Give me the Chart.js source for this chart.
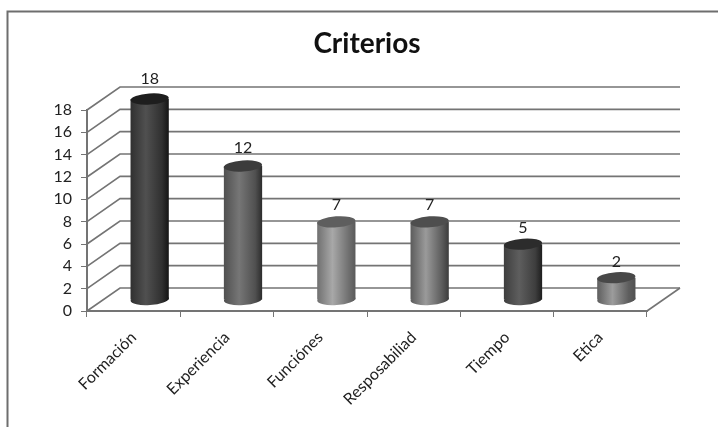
<!DOCTYPE html>
<html>
<head>
<meta charset="utf-8">
<style>
  html, body { margin: 0; padding: 0; background: #fff; }
  #wrap { width: 718px; height: 427px; }
</style>
<script src="https://cdn.jsdelivr.net/npm/chart.js@4"></script>
</head>
<body>
<div id="wrap"><canvas id="chart" width="718" height="427"></canvas></div>
<script>
const categories = ['Formación', 'Experiencia', 'Funciónes', 'Resposabiliad', 'Tiempo', 'Etica'];
const counts = [18, 12, 7, 7, 5, 2];
const chartTitle = 'Criterios';

// Cylinder shading per bar: left edge, highlight, right edge, cap
const shades = [
  ['#303030', '#505050', '#141414', '#1e1e1e'],
  ['#505050', '#767676', '#2c2c2c', '#3c3c3c'],
  ['#707070', '#a8a8a8', '#5a5a5a', '#5e5e5e'],
  ['#5c5c5c', '#9a9a9a', '#3c3c3c', '#4e4e4e'],
  ['#3e3e3e', '#5e5e5e', '#1e1e1e', '#2c2c2c'],
  ['#5e5e5e', '#9c9c9c', '#505050', '#484848']
];

// Depth of the drawn box: walls run this far back from the front axes
const DEPTH = { x: 33, y: -23 };
// Bars stand halfway into that depth
const BAR_SHIFT = { x: 16, y: -11 };
const BAR_RATIO = 0.41;
const LINE = '#747474';
const FONT = 'Lato, Carlito, "Open Sans", sans-serif';

function bodyGradient(chart, i) {
  const xs = chart.scales.x;
  if (!xs) return '#555';
  const half = xs.width / categories.length * BAR_RATIO / 2;
  const cx = xs.getPixelForValue(i);
  if (!Number.isFinite(half) || !Number.isFinite(cx)) return '#555';
  const g = chart.ctx.createLinearGradient(cx - half, 0, cx + half, 0);
  const s = shades[i];
  g.addColorStop(0, s[0]);
  g.addColorStop(0.4, s[1]);
  g.addColorStop(0.82, s[0]);
  g.addColorStop(1, s[2]);
  return g;
}

const chartBox = {
  id: 'chartBox',
  beforeDraw(chart) {
    const c = chart.ctx;
    c.save();
    c.strokeStyle = '#6e6e6e';
    c.lineWidth = 2;
    c.beginPath();
    c.moveTo(7.5, 427);
    c.lineTo(7.5, 11.5);
    c.lineTo(718, 11.5);
    c.stroke();
    c.restore();
  }
};

const depthWalls = {
  id: 'depthWalls',
  beforeDatasetsDraw(chart) {
    const c = chart.ctx;
    const { x: xs, y: ys } = chart.scales;
    const left = xs.left, right = xs.right;
    c.save();
    c.strokeStyle = LINE;
    c.lineWidth = 1.6;
    ys.ticks.forEach(t => {
      const py = ys.getPixelForValue(t.value);
      c.beginPath();
      c.moveTo(left, py);
      c.lineTo(left + DEPTH.x, py + DEPTH.y);
      c.lineTo(right + DEPTH.x, py + DEPTH.y);
      c.stroke();
    });
    // right edge of the floor
    const base = ys.getPixelForValue(0);
    c.beginPath();
    c.moveTo(right, base);
    c.lineTo(right + DEPTH.x, base + DEPTH.y);
    c.stroke();
    c.restore();

    // the bars are drawn set back from the front plane
    c.save();
    c.translate(BAR_SHIFT.x, BAR_SHIFT.y);
  },
  afterDatasetsDraw(chart) {
    const c = chart.ctx;
    const meta = chart.getDatasetMeta(0);
    const tilt = -0.07;
    meta.data.forEach((bar, i) => {
      const rx = bar.width / 2;
      const ry = 5.5;
      // rounded foot of the cylinder
      c.fillStyle = bodyGradient(chart, i);
      c.beginPath();
      c.ellipse(bar.x, bar.base, rx, ry, tilt, 0, Math.PI * 2);
      c.fill();
      // top face
      c.fillStyle = shades[i][3];
      c.beginPath();
      c.ellipse(bar.x, bar.y, rx, ry, tilt, 0, Math.PI * 2);
      c.fill();
    });
    c.restore();

    // value labels above the caps; taller bars carry theirs a little higher
    c.save();
    c.fillStyle = '#222';
    c.font = '16px ' + FONT;
    c.textAlign = 'center';
    c.textBaseline = 'middle';
    meta.data.forEach((bar, i) => {
      const gap = 15 + counts[i] * 0.3;
      c.fillText(String(counts[i]), bar.x + BAR_SHIFT.x, bar.y + BAR_SHIFT.y - gap);
    });
    c.restore();
  }
};

new Chart(document.getElementById('chart'), {
  type: 'bar',
  data: {
    labels: categories,
    datasets: [{
      data: counts,
      barPercentage: 1,
      categoryPercentage: BAR_RATIO,
      borderWidth: 0,
      backgroundColor: ctx => (ctx.dataIndex === undefined ? '#555' : bodyGradient(ctx.chart, ctx.dataIndex))
    }]
  },
  plugins: [chartBox, depthWalls],
  options: {
    responsive: false,
    animation: false,
    layout: { padding: { left: 0, right: 71, top: 0, bottom: 0 } },
    plugins: {
      legend: { display: false },
      tooltip: { enabled: false },
      title: {
        display: true,
        text: chartTitle,
        color: '#111',
        fullSize: false,
        font: { family: FONT, size: 28, weight: 'bold' },
        padding: { top: 27, bottom: 49.4 }
      }
    },
    scales: {
      x: {
        grid: { drawOnChartArea: false, drawTicks: true, tickLength: 6, color: LINE },
        border: { color: LINE, width: 2 },
        afterFit(scale) { scale.height = 116; },
        ticks: {
          autoSkip: false,
          minRotation: 45,
          maxRotation: 45,
          padding: 11,
          color: '#222',
          font: { family: FONT, size: 16 }
        }
      },
      y: {
        min: 0,
        max: 18,
        grid: { drawOnChartArea: false, drawTicks: true, tickLength: 6, color: LINE },
        border: { color: LINE, width: 2 },
        afterFit(scale) { scale.width = 87; },
        ticks: {
          stepSize: 2,
          padding: 9,
          color: '#222',
          font: { family: FONT, size: 16 }
        }
      }
    }
  }
});
</script>
</body>
</html>
